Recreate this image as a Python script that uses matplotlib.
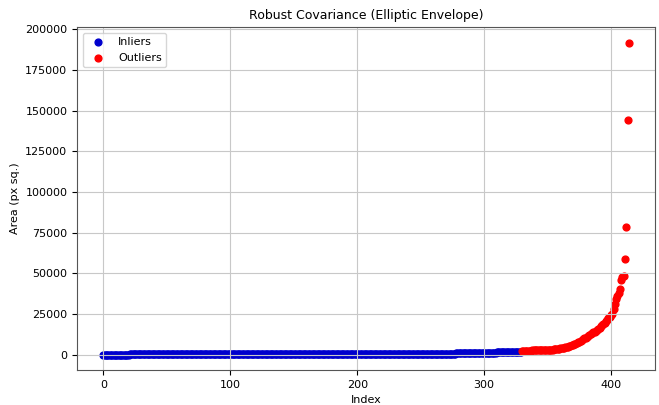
import numpy as np
import matplotlib.pyplot as plt

# sorted contour areas, split by the elliptic envelope fit
inlier_area = [
    10, 14, 17, 20, 23, 26, 28, 30, 32, 34, 36, 38, 40, 42, 44, 46, 48, 50, 52, 54,
    56, 58, 60, 62, 65, 68,
    300, 301, 301, 302, 302, 303, 303, 304, 304, 305, 305, 306,
    306, 307, 307, 308, 308, 309, 309, 310, 310, 311, 311, 312,
    312, 313, 313, 314, 314, 315, 315, 316, 316, 317, 317, 318,
    318, 319, 319, 320, 320, 321, 321, 322, 322, 323, 323, 324,
    324, 325, 325, 326, 326, 327, 327, 328, 328, 329, 329, 330,
    330, 331, 331, 332, 332, 333, 333, 334, 334, 335, 335, 336,
    336, 337, 337, 338, 338, 339, 339, 340, 340, 341, 341, 342,
    342, 343, 343, 344, 344, 345, 345, 346, 346, 347, 347, 348,
    348, 349, 349, 350, 350, 351, 351, 352, 352, 353, 353, 354,
    354, 355, 355, 356, 356, 357, 357, 358, 358, 359, 359, 360,
    360, 361, 361, 362, 362, 363, 363, 364, 364, 365, 365, 366,
    366, 367, 367, 368, 368, 369, 369, 370, 370, 371, 371, 372,
    372, 373, 373, 374, 374, 375, 375, 376, 376, 377, 377, 378,
    378, 379, 379, 380, 380, 381, 381, 382, 382, 383, 383, 384,
    384, 385, 385, 386, 386, 387, 387, 388, 388, 389, 389, 390,
    390, 391, 391, 392, 392, 393, 393, 394, 394, 395, 395, 396,
    396, 397, 397, 398, 398, 399, 399, 400, 400, 401, 401, 402,
    402, 403, 403, 404, 404, 405, 405, 406, 406, 407, 407, 408,
    408, 409, 409, 410, 410, 411, 411, 412, 412, 413, 413, 414,
    414, 415, 415, 416, 416, 417, 417, 418, 418, 419, 419, 420,
    422, 424, 426, 428, 430, 433, 436, 439, 442, 446, 450, 455,
    880, 886, 892, 898, 904, 910, 916, 922, 928, 934, 940, 946, 952, 958, 964, 970,
    976, 982, 988, 994, 1000, 1006, 1012, 1018, 1024, 1030, 1040, 1050, 1060, 1070, 1085, 1100,
    1480, 1495, 1510, 1525, 1540, 1555, 1570, 1585, 1600, 1615, 1630, 1645, 1660, 1680, 1700, 1720,
    1740, 1760, 1790, 1820,
]

outlier_area = [
    2150, 2200, 2250, 2300, 2350, 2400, 2450, 2500, 2550, 2600,
    2620, 2640, 2660, 2690, 2720, 2750, 2780, 2810, 2840, 2870,
    2900, 2950, 3000, 3050, 3100, 3200, 3300, 3400, 3500, 3600,
    3750, 3900, 4050, 4250, 4450, 4700, 4950, 5200, 5500, 5800,
    6100, 6450, 6800, 7200, 7600, 8000, 8500, 9000, 9500, 10000,
    10500, 11000, 11500, 12000, 12500, 13000, 13600, 14200, 14800, 15400,
    16000, 16600, 17300, 18000, 18800, 19600, 20400, 21300, 22300, 23300,
    24500, 25000, 28000, 31000, 34000, 36000, 38000, 40600, 45700, 47700,
    48500, 58600, 78400, 144000, 191800,
]

idx_in = np.arange(len(inlier_area))
idx_out = np.arange(len(inlier_area), len(inlier_area) + len(outlier_area))

plt.rcParams.update({'font.size': 8})
fig = plt.figure(figsize=(6.59, 4.05), dpi=100)
ax = fig.add_axes([0.117, 0.086, 0.877, 0.847])

ax.scatter(idx_in, inlier_area, s=24, color='mediumblue', label='Inliers')
ax.scatter(idx_out, outlier_area, s=24, color='red', label='Outliers')

ax.set_title('Robust Covariance (Elliptic Envelope)', fontsize=9)
ax.set_xlabel('Index')
ax.set_ylabel('Area (px sq.)')
ax.set_xticks([0, 100, 200, 300, 400])
ax.set_yticks(np.arange(0, 200001, 25000))
ax.legend(loc='upper left')
ax.grid(True, color='#c8c8c8')
for sp in ax.spines.values():
    sp.set_color('#555555')

fig.savefig('out.png', dpi=100)
